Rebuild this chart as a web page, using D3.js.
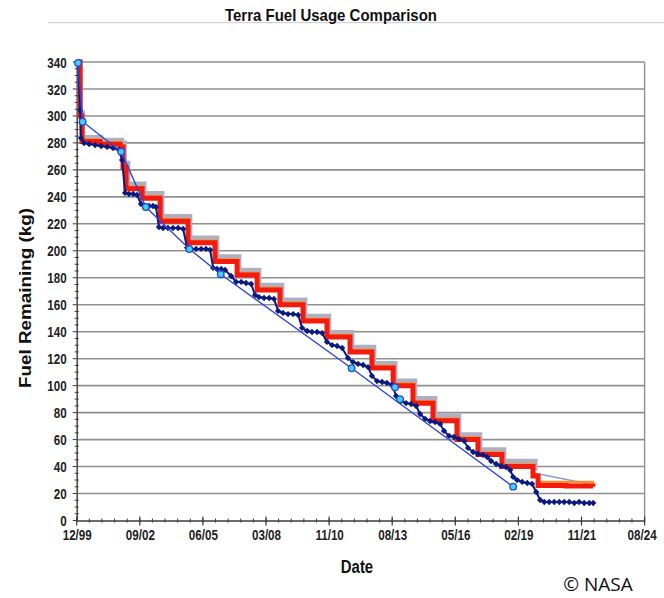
<!DOCTYPE html>
<html><head><meta charset="utf-8">
<script src="https://cdn.jsdelivr.net/npm/d3@7"></script>
<style>body{margin:0;background:#fff;} svg{display:block;}</style>
</head><body>
<svg id="c" width="664" height="598"></svg>
<script>
// ---------------- data ----------------
const chartTitle = "Terra Fuel Usage Comparison";
const yAxisTitle = "Fuel Remaining (kg)";
const xAxisTitle = "Date";
const creditText = "© NASA";
const yTickValues = [0,20,40,60,80,100,120,140,160,180,200,220,240,260,280,300,320,340];
const xAxisStart = "1999-12-18";       // first major tick (12/99)
const xMajorStepDays = 1000;
const xMinorStepDays = 200;
const xTickLabels = ["12/99","09/02","06/05","03/08","11/10","08/13","05/16","02/19","11/21","08/24"];

// actual usage (thick red staircase)  [decimal year, kg]
const actualUsage = [
 [2000.02,340],[2000.11,300],[2000.19,281],[2000.97,279],[2001.84,277],[2001.97,262],
 [2002.10,246],[2002.80,239],[2003.58,222],[2004.79,206],[2005.96,192],[2006.92,182],
 [2007.79,171],[2008.78,160],[2009.78,148],[2010.82,136],[2011.82,125],[2012.77,113],
 [2013.69,100],[2014.55,87],[2015.42,74],[2016.46,60],[2017.37,49],[2018.41,40],
 [2019.76,33],[2019.98,26],[2021.20,25.5],[2022.36,25]
];
// earlier plan (gray staircase)
const planGray = [
 [2000.02,340],[2000.11,302],[2000.22,284],[2001.00,282],[2001.90,280],[2002.03,265],
 [2002.18,249.5],[2002.88,242.5],[2003.66,225.5],[2004.87,209.5],[2006.04,195.5],[2007.00,185.5],
 [2007.87,174.5],[2008.86,163.5],[2009.86,151.5],[2010.90,139.5],[2011.90,128.5],[2012.85,116.5],
 [2013.77,103.5],[2014.63,90.5],[2015.50,77.5],[2016.54,63.5],[2017.45,52.5],[2018.49,44],
 [2019.85,37]
];
// plan extension (thin light blue)
const planGrayTail = [[2019.85,35],[2022.36,26.5]];
// orange plan
const planOrange = [
 [2000.02,340],[2000.11,301],[2000.20,282.5],[2000.98,280.5],[2001.86,278.5],[2001.99,263.5],
 [2002.13,247.5],[2002.83,240.5],[2003.61,223.5],[2004.82,207.5],[2005.99,193.5],[2006.95,183.5],
 [2007.82,172.5],[2008.81,161.5],[2009.81,149.5],[2010.85,137.5],[2011.85,126.5],[2012.80,114.5],
 [2013.72,101.5],[2014.58,88.5],[2015.45,75.5],[2016.49,61.5],[2017.40,50.5],[2018.44,41.5],
 [2019.80,34],[2019.98,28.5],[2022.36,25.5]
];
// navy series with diamond markers
const navyYears = [2000.02,2000.11,2000.15,2000.28,2000.50,2000.76,2001.02,2001.28,2001.54,2001.80,
 2001.93,2002.06,2002.23,2002.41,2002.58,2002.75,2002.93,2003.10,2003.27,2003.40,
 2003.53,2003.71,2003.92,2004.14,2004.36,2004.58,2004.75,2004.92,2005.14,2005.36,
 2005.57,2005.75,2005.88,2006.05,2006.23,2006.40,2006.66,2006.88,2007.10,2007.31,
 2007.53,2007.70,2007.87,2008.09,2008.31,2008.52,2008.70,2008.91,2009.13,2009.35,
 2009.57,2009.74,2009.96,2010.17,2010.39,2010.61,2010.82,2011.04,2011.26,2011.48,
 2011.73,2011.95,2012.17,2012.39,2012.60,2012.77,2012.99,2013.21,2013.42,2013.64,
 2013.82,2014.03,2014.25,2014.47,2014.69,2014.86,2015.08,2015.29,2015.51,2015.73,
 2015.90,2016.12,2016.33,2016.55,2016.77,2016.94,2017.16,2017.37,2017.59,2017.77,
 2017.94,2018.16,2018.37,2018.59,2018.77,2018.90,2019.07,2019.29,2019.51,2019.72,
 2019.90,2020.07,2020.25,2020.46,2020.68,2020.90,2021.11,2021.33,2021.55,2021.76,
 2021.98,2022.20,2022.37];
const navyKg = [339.3,304.4,283.6,279.9,279.2,278.4,277.7,277.0,276.2,274.8,
 267.3,242.9,242.1,242.1,241.4,234.7,233.2,233.2,233.2,232.5,
 217.6,216.9,216.9,216.9,216.9,216.2,202.2,201.4,201.4,201.4,
 201.4,200.7,187.3,186.5,186.5,185.8,181.3,176.9,176.9,176.1,
 175.4,167.2,165.7,165.0,165.0,164.3,155.4,153.9,153.1,153.1,
 152.4,142.8,140.5,139.8,139.8,139.0,132.4,130.1,129.4,127.9,
 120.5,117.5,116.1,115.3,113.8,107.2,103.4,102.7,102.0,100.5,
 92.3,88.6,87.1,86.4,84.9,79.0,75.3,73.8,73.0,71.6,
 66.4,62.7,61.9,60.4,59.0,53.8,50.8,49.3,48.6,47.1,
 44.1,41.9,40.4,39.7,37.4,32.3,30.0,28.6,27.8,27.1,
 21.1,15.2,13.7,13.7,13.7,13.7,13.7,13.7,13.0,13.7,
 13.0,13.0,13.0];
// blue thin line with cyan circles
const checkpoints = [[2000.02,339.3],[2000.22,295.7],[2001.89,273.5],[2002.96,232.5],
 [2004.85,201.3],[2006.21,182.6],[2011.89,112.9],[2018.90,25.1]];
const checkpointsExtra = [[2013.77,98.8],[2013.99,89.9]];

// ---------------- drawing ----------------
const svg = d3.select("#c");
const DAY = 86400000;
const t0 = new Date(xAxisStart + "T00:00:00Z");
const majorDates = xTickLabels.map((_, i) => new Date(+t0 + i * xMajorStepDays * DAY));
const tEnd = majorDates[majorDates.length - 1];
const minorDates = d3.range(0, +tEnd - +t0 + 1, xMinorStepDays * DAY).map(ms => new Date(+t0 + ms));

function yearToDate(y) {
  const yr = Math.floor(y);
  const a = Date.UTC(yr, 0, 1), b = Date.UTC(yr + 1, 0, 1);
  return new Date(a + (y - yr) * (b - a));
}

const x = d3.scaleUtc().domain([t0, tEnd]).range([76.7, 644.6]);
const y = d3.scaleLinear().domain([0, 340]).range([520.5, 62]);

const SQ = 0.83; // horizontal compression of the source image text
function squish(sel, f) {
  sel.each(function () {
    const w = this.getComputedTextLength();
    this.setAttribute("textLength", w * f);
    this.setAttribute("lengthAdjust", "spacingAndGlyphs");
  });
}

// title + rule
svg.append("line").attr("x1", 48).attr("x2", 664).attr("y1", 22.7).attr("y2", 22.7)
  .attr("stroke", "#c8c8c8").attr("stroke-width", 1);
svg.append("text").attr("x", 331).attr("y", 20.5).attr("text-anchor", "middle")
  .attr("font-family", "Liberation Sans, Arial, sans-serif").attr("font-weight", "bold")
  .attr("font-size", 17).attr("fill", "#111").text(chartTitle)
  .attr("textLength", 212).attr("lengthAdjust", "spacingAndGlyphs");

// gridlines
svg.append("g").selectAll("line").data(yTickValues.filter(v => v > 0)).join("line")
  .attr("x1", x.range()[0]).attr("x2", x.range()[1])
  .attr("y1", d => y(d)).attr("y2", d => y(d))
  .attr("stroke", "#8f8f8f").attr("stroke-width", 1.6);
// right border
svg.append("line").attr("x1", x.range()[1]).attr("x2", x.range()[1])
  .attr("y1", y(340)).attr("y2", y(0)).attr("stroke", "#8f8f8f").attr("stroke-width", 1.4);

// axes
const axisCol = "#3a3a3a";
const yAxis = svg.append("g").attr("transform", `translate(${x.range()[0]},0)`)
  .call(d3.axisLeft(y).tickValues(yTickValues).tickSize(0).tickPadding(10).tickFormat(d3.format("d")));
yAxis.select(".domain").attr("stroke", axisCol).attr("stroke-width", 1.4);
yAxis.selectAll("text").attr("font-family", "Liberation Sans, Arial, sans-serif")
  .attr("font-weight", "bold").attr("font-size", 14).attr("fill", "#222").attr("dy", "0.36em");
squish(yAxis.selectAll("text"), SQ);
const yMinor = d3.range(0, 341, 5);
svg.append("g").selectAll("line").data(yMinor).join("line")
  .attr("x1", d => x.range()[0] - (d % 20 === 0 ? 4 : 2)).attr("x2", d => x.range()[0] + (d % 20 === 0 ? 0 : 2))
  .attr("y1", d => y(d)).attr("y2", d => y(d)).attr("stroke", axisCol).attr("stroke-width", 1);

const xAxis = svg.append("g").attr("transform", `translate(0,${y(0)})`)
  .call(d3.axisBottom(x).tickValues(majorDates).tickSize(0).tickPadding(10)
    .tickFormat((d, i) => xTickLabels[i]));
xAxis.select(".domain").attr("stroke", axisCol).attr("stroke-width", 1.4);
xAxis.selectAll("text").attr("font-family", "Liberation Sans, Arial, sans-serif")
  .attr("font-weight", "bold").attr("font-size", 14).attr("fill", "#222").attr("dy", "0.71em");
squish(xAxis.selectAll("text"), SQ);
// keep the last label inside the picture edge
xAxis.selectAll(".tick").filter((d, i) => i === xTickLabels.length - 1).select("text").attr("dx", -3);
svg.append("g").selectAll("line").data(minorDates).join("line")
  .attr("x1", d => x(d)).attr("x2", d => x(d))
  .attr("y1", y(0) - 2).attr("y2", y(0) + 2).attr("stroke", axisCol).attr("stroke-width", 1);
svg.append("g").selectAll("line").data(majorDates).join("line")
  .attr("x1", d => x(d)).attr("x2", d => x(d))
  .attr("y1", y(0) - 4).attr("y2", y(0) + 5).attr("stroke", axisCol).attr("stroke-width", 1.2);

// axis titles
svg.append("text").attr("transform", "translate(31,298) rotate(-90)")
  .attr("text-anchor", "middle").attr("font-family", "Liberation Sans, Arial, sans-serif")
  .attr("font-weight", "bold").attr("font-size", 17).attr("fill", "#111").text(yAxisTitle)
  .attr("textLength", 180).attr("lengthAdjust", "spacingAndGlyphs");
const xt = svg.append("text").attr("x", 357).attr("y", 573).attr("text-anchor", "middle")
  .attr("font-family", "Liberation Sans, Arial, sans-serif").attr("font-weight", "bold")
  .attr("font-size", 18).attr("fill", "#111").text(xAxisTitle);
squish(xt, SQ);
svg.append("text").attr("x", 598).attr("y", 591).attr("text-anchor", "middle")
  .attr("font-family", "Open Sans, Liberation Sans, sans-serif")
  .attr("font-size", 19).attr("fill", "#111").text(creditText);

// series
const pt = d => [x(yearToDate(d[0])), y(d[1])];
const stepLine = d3.line().x(d => pt(d)[0]).y(d => pt(d)[1]).curve(d3.curveStepAfter);
const linLine = d3.line().x(d => pt(d)[0]).y(d => pt(d)[1]);

const plot = svg.append("g");
plot.append("path").attr("d", stepLine(planGray)).attr("fill", "none")
  .attr("stroke", "#aeb0c2").attr("stroke-width", 5);
plot.append("path").attr("d", linLine(planGrayTail)).attr("fill", "none")
  .attr("stroke", "#8c9be0").attr("stroke-width", 1.6);
plot.append("path").attr("d", stepLine(planOrange)).attr("fill", "none")
  .attr("stroke", "#f6902a").attr("stroke-width", 2.5);
plot.append("path").attr("d", stepLine(actualUsage)).attr("fill", "none")
  .attr("stroke", "#f41a0c").attr("stroke-width", 5).attr("stroke-linejoin", "miter");

const navy = navyYears.map((yr, i) => [yr, navyKg[i]]);
plot.append("path").attr("d", linLine(navy)).attr("fill", "none")
  .attr("stroke", "#0b1a80").attr("stroke-width", 2);
plot.append("g").selectAll("path").data(navy).join("path")
  .attr("transform", d => `translate(${pt(d)[0]},${pt(d)[1]}) rotate(45)`)
  .attr("d", d3.symbol(d3.symbolSquare, 20)).attr("fill", "#0b1a80");

plot.append("path").attr("d", linLine(checkpoints)).attr("fill", "none")
  .attr("stroke", "#3346d8").attr("stroke-width", 1.4);
plot.append("g").selectAll("circle").data(checkpoints.concat(checkpointsExtra)).join("circle")
  .attr("cx", d => pt(d)[0]).attr("cy", d => pt(d)[1]).attr("r", 3.3)
  .attr("fill", "#3fd0ff").attr("stroke", "#2c48c8").attr("stroke-width", 1.3);
</script>
</body></html>
